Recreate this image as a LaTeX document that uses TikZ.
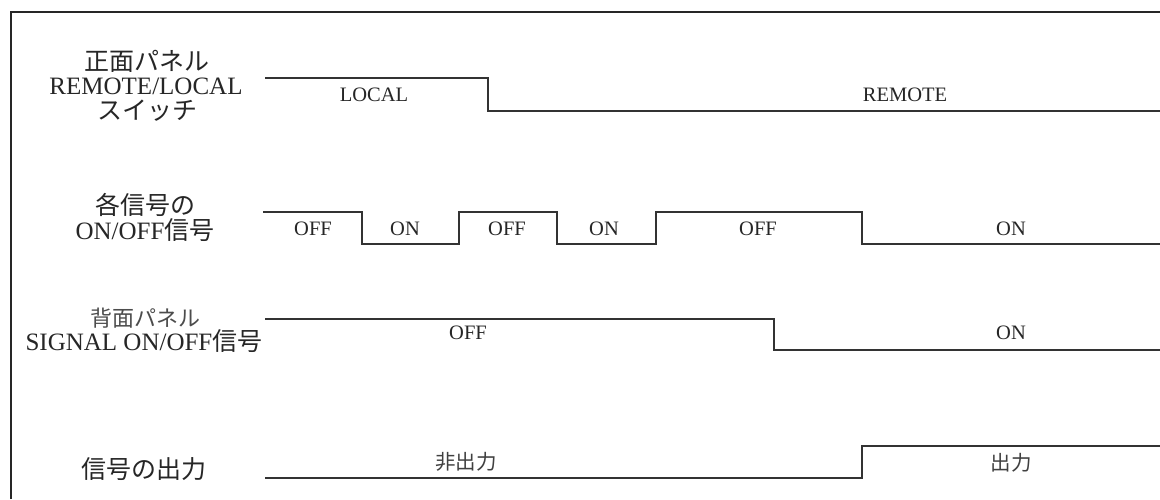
\documentclass[tikz,border=0pt]{standalone}
\usepackage{fontspec}
\setmainfont{Liberation Serif}
\newfontfamily\jp{Noto Sans CJK JP}
\begin{document}
\begin{tikzpicture}[x=1pt,y=-1pt,
  wave/.style={draw=black!80, line width=1.6pt, line join=miter},
  frame/.style={draw=black!85, line width=2.4pt},
  rowlab/.style={font=\fontsize{25}{25}\selectfont, text=black!85, inner sep=0pt,
    text height=0.72em, text depth=0.16em},
  smalllab/.style={font=\fontsize{22}{22}\selectfont, text=black!70, inner sep=0pt,
    text height=0.72em, text depth=0.16em},
  siglab/.style={font=\fontsize{20.5}{20.5}\selectfont, text=black!85, inner sep=0pt}]
\useasboundingbox (0,0) rectangle (1160,499);
\fill[white] (0,0) rectangle (1160,499);
\draw[frame] (11,499) -- (11,12) -- (1160,12);

% row labels
\node[rowlab] (r1a) at (147,67.5) {\jp 正面パネル};
\node[rowlab] (r1b) at (146,91.5) {REMOTE/LOCAL};
\node[rowlab] (r1c) at (147,117) {\jp スイッチ};
\node[rowlab] (r2a) at (145,211.5) {\jp 各信号の};
\node[rowlab] (r2b) at (145,237) {ON/OFF{\jp 信号}};
\node[smalllab] (r3a) at (145,323.5) {\jp 背面パネル};
\node[rowlab] (r3b) at (144,348) {SIGNAL ON/OFF{\jp 信号}};
\node[rowlab] (r4a) at (144,476) {\jp 信号の出力};

% row 1
\draw[wave] (265,78) -- (488,78) -- (488,111) -- (1160,111);
\node[siglab] (s1a) at (374,95) {LOCAL};
\node[siglab] (s1b) at (905,95) {REMOTE};

% row 2
\draw[wave] (263,212) -- (362,212) -- (362,244) -- (459,244) -- (459,212)
  -- (557,212) -- (557,244) -- (656,244) -- (656,212) -- (862,212)
  -- (862,244) -- (1160,244);
\node[siglab] (s2a) at (313,229) {OFF};
\node[siglab] (s2b) at (405,229) {ON};
\node[siglab] (s2c) at (507,229) {OFF};
\node[siglab] (s2d) at (604,229) {ON};
\node[siglab] (s2e) at (758,229) {OFF};
\node[siglab] (s2f) at (1011,229) {ON};

% row 3
\draw[wave] (265,319) -- (774,319) -- (774,350) -- (1160,350);
\node[siglab] (s3a) at (468,333) {OFF};
\node[siglab] (s3b) at (1011,333) {ON};

% row 4
\draw[wave] (265,478) -- (862,478) -- (862,446) -- (1160,446);
\node[siglab, text=black!75] (s4a) at (466,462) {\jp 非出力};
\node[siglab, text=black!75] (s4b) at (1011,463) {\jp 出力};
\end{tikzpicture}
\end{document}
